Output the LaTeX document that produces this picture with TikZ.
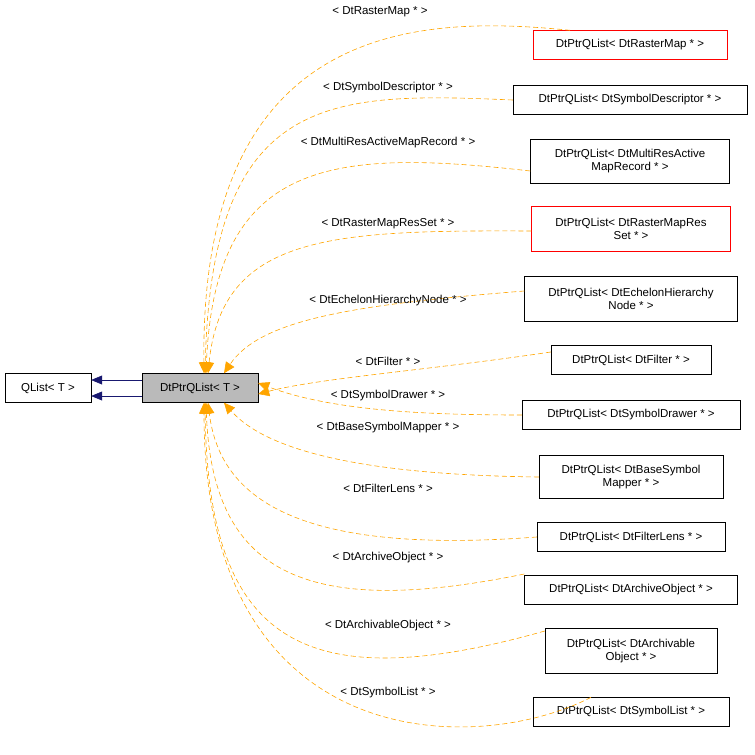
\documentclass[tikz,border=0pt]{standalone}
\usepackage{fontspec}
\setmainfont{Liberation Sans}
\usetikzlibrary{arrows.meta,calc}

\definecolor{deporange}{HTML}{FFA500}
\definecolor{inhblue}{HTML}{191970}
\tikzset{
  cls/.style={draw=black,fill=white,align=center,inner sep=0pt,minimum height=29pt},
  redcls/.style={cls,draw=red},
  dep/.style={draw=deporange,semithick,dash pattern=on 5pt off 3pt,-{Triangle[width=10pt,length=11pt]}},
  inh/.style={draw=inhblue,semithick,-{Triangle[width=9pt,length=11pt]}},
  lbl/.style={font=\fontsize{11.5}{13}\selectfont}
}

\begin{document}
\begin{tikzpicture}[x=1pt,y=-1pt,font=\fontsize{11.5}{13.5}\selectfont]
\useasboundingbox (0,0) rectangle (755,755);

\node[cls,minimum width=86pt] (qlist) at (48,388) {QList< T >};
\node[cls,fill=black!27,minimum width=116pt] (ptr) at (200,388) {DtPtrQList< T >};

\node[redcls,minimum width=194pt] (r1) at (630,45) {DtPtrQList< DtRasterMap * >};
\node[cls,minimum width=234pt] (r2) at (630,100) {DtPtrQList< DtSymbolDescriptor * >};
\node[cls,minimum width=199pt,minimum height=44pt] (r3) at (630,161) {DtPtrQList< DtMultiResActive\\MapRecord * >};
\node[redcls,minimum width=199pt,minimum height=45pt] (r4) at (631,229) {DtPtrQList< DtRasterMapRes\\Set * >};
\node[cls,minimum width=213pt,minimum height=45pt] (r5) at (631,299) {DtPtrQList< DtEchelonHierarchy\\Node * >};
\node[cls,minimum width=160pt] (r6) at (631,360) {DtPtrQList< DtFilter * >};
\node[cls,minimum width=218pt] (r7) at (631,415) {DtPtrQList< DtSymbolDrawer * >};
\node[cls,minimum width=184pt,minimum height=43pt] (r8) at (631,477) {DtPtrQList< DtBaseSymbol\\Mapper * >};
\node[cls,minimum width=188pt] (r9) at (631,537) {DtPtrQList< DtFilterLens * >};
\node[cls,minimum width=213pt] (r10) at (631,590) {DtPtrQList< DtArchiveObject * >};
\node[cls,minimum width=172pt,minimum height=45pt] (r11) at (631,651) {DtPtrQList< DtArchivable\\Object * >};
\node[cls,minimum width=196pt] (r12) at (631,712) {DtPtrQList< DtSymbolList * >};

% inheritance to QList
\draw[inh] ([yshift=-8pt]ptr.west) -- ([yshift=-8pt]qlist.east);
\draw[inh] ([yshift=8pt]ptr.west) -- ([yshift=8pt]qlist.east);

% template instances
\draw[dep] ([xshift=-60pt]r1.north) .. controls (420,15) and (200,20) .. ([xshift=4pt]ptr.north);
\node[lbl] (l1) at (380,12) {< DtRasterMap * >};
\draw[dep] (r2.west) .. controls (330,92) and (212,92) .. ([xshift=5pt]ptr.north);
\node[lbl] (l2) at (388,88) {< DtSymbolDescriptor * >};
\draw[dep] ([yshift=-10pt]r3.west) .. controls (330,148) and (215,160) .. ([xshift=6pt]ptr.north);
\node[lbl] (l3) at (388,143) {< DtMultiResActiveMapRecord * >};
\draw[dep] ([yshift=-2pt]r4.west) .. controls (330,230) and (222,235) .. ([xshift=8pt]ptr.north);
\node[lbl] (l4) at (388,224) {< DtRasterMapResSet * >};
\draw[dep] ([yshift=8pt]r5.west) .. controls (350,305) and (260,320) .. ([xshift=24pt]ptr.north);
\node[lbl] (l5) at (388,301) {< DtEchelonHierarchyNode * >};
\draw[dep] ([yshift=8pt]r6.west) .. controls (430,370) and (320,378) .. ([yshift=-6pt]ptr.east);
\node[lbl] (l6) at (388,361) {< DtFilter * >};
\draw[dep] (r7.west) .. controls (420,415) and (330,410) .. ([yshift=5pt]ptr.east);
\node[lbl] (l7) at (388,396) {< DtSymbolDrawer * >};
\draw[dep] (r8.west) .. controls (380,475) and (270,455) .. ([xshift=24pt]ptr.south);
\node[lbl] (l8) at (388,428) {< DtBaseSymbolMapper * >};
\draw[dep] (r9.west) .. controls (300,555) and (220,500) .. ([xshift=8pt]ptr.south);
\node[lbl] (l9) at (388,488) {< DtFilterLens * >};
\draw[dep] ([yshift=16pt]r10.west) .. controls (300,620) and (212,570) .. ([xshift=6pt]ptr.south);
\node[lbl] (l10) at (388,558) {< DtArchiveObject * >};
\draw[dep] ([yshift=20pt]r11.west) .. controls (300,700) and (208,640) .. ([xshift=5pt]ptr.south);
\node[lbl] (l11) at (388,626) {< DtArchivableObject * >};
\draw[dep] ([xshift=-40pt]r12.north) .. controls (480,755) and (204,760) .. ([xshift=4pt]ptr.south);
\node[lbl] (l12) at (388,693) {< DtSymbolList * >};
\end{tikzpicture}
\end{document}
